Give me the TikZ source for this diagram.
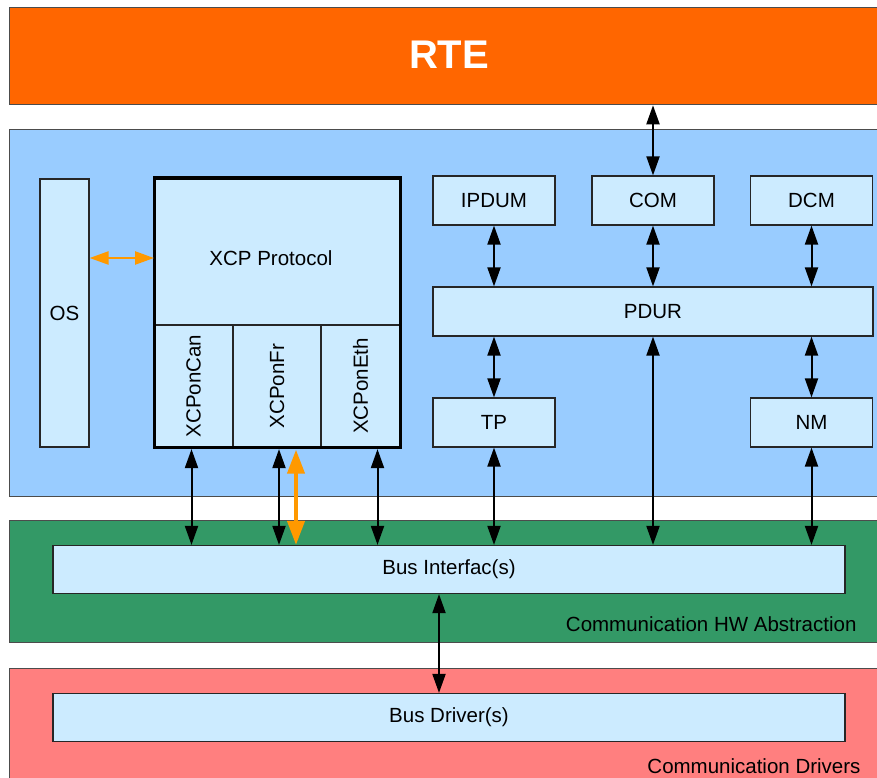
\documentclass[tikz,border=0pt]{standalone}
\usepackage{fontspec}
\setmainfont{Liberation Sans}
\usetikzlibrary{arrows.meta}

\definecolor{rteorange}{HTML}{FF6600}
\definecolor{swblue}{HTML}{99CCFF}
\definecolor{boxblue}{HTML}{CCEBFF}
\definecolor{hwgreen}{HTML}{339966}
\definecolor{drvred}{HTML}{FF7F7F}
\definecolor{xcporange}{HTML}{FF9900}

\tikzset{
    module/.style={draw=black!85, fill=boxblue, line width=1.2pt, inner sep=0pt},
    layer/.style={draw=black!70, line width=1.3pt, inner sep=0pt, anchor=north west},
    link/.style={arrows={Triangle[length=19pt,width=13pt]-Triangle[length=19pt,width=13pt]}, line width=2pt},
    xlink/.style={arrows={Triangle[length=24pt,width=17pt]-Triangle[length=24pt,width=17pt]}, draw=xcporange, fill=xcporange, line width=4pt},
    oslink/.style={arrows={Triangle[length=19pt,width=13pt]-Triangle[length=19pt,width=13pt]}, draw=xcporange, fill=xcporange, line width=2.4pt},
}

\begin{document}
\begin{tikzpicture}[x=1pt, y=-1pt, font=\fontsize{20.5}{24}\selectfont]
    \clip (0,0) rectangle (877,778);
    \fill[white] (0,0) rectangle (877,778);

    % layers
    \node[layer, fill=rteorange, minimum width=890pt, minimum height=97pt] (rte) at (9,7) {};
    \node[layer, fill=swblue, minimum width=890pt, minimum height=367pt] (swl) at (9,129) {};
    \node[layer, fill=hwgreen, minimum width=890pt, minimum height=122pt] (hwl) at (9,520) {};
    \node[layer, fill=drvred, minimum width=890pt, minimum height=140pt] (drl) at (9,668) {};

    % layer texts
    \node[white, font=\bfseries\fontsize{40}{44}\selectfont] (rtetext) at (449,55) {RTE};
    \node[anchor=east] (hwtext) at (860,624) {Communication HW Abstraction};
    \node[anchor=east] (drtext) at (864,766) {Communication Drivers};

    % OS
    \node[module, minimum width=49pt, minimum height=268pt] (os) at (64.5,313) {OS};

    % XCP
    \node[draw, fill=boxblue, line width=3pt, outer sep=0pt, minimum width=246pt, minimum height=269pt, anchor=north west] (xcp) at (154,178) {};
    \node (proto) at (271,258) {XCP Protocol};
    \node[module, minimum width=79pt, minimum height=122pt] (can) at (193.5,386) {\rotatebox{90}{XCPonCan}};
    \node[module, minimum width=88pt, minimum height=122pt] (fr) at (277,386) {\rotatebox{90}{XCPonFr}};
    \node[module, minimum width=79pt, minimum height=122pt] (eth) at (360.5,386) {\rotatebox{90}{XCPonEth}};
    \draw[line width=3pt] (xcp.north west) rectangle (xcp.south east);

    % services
    \node[module, minimum width=122pt, minimum height=49pt] (ipdum) at (494,200.5) {IPDUM};
    \node[module, minimum width=122pt, minimum height=49pt] (com) at (653,200.5) {COM};
    \node[module, minimum width=122pt, minimum height=49pt] (dcm) at (811.5,200.5) {DCM};
    \node[module, minimum width=440pt, minimum height=49pt] (pdur) at (653,311.5) {PDUR};
    \node[module, minimum width=122pt, minimum height=49pt] (tp) at (494,422.5) {TP};
    \node[module, minimum width=122pt, minimum height=49pt] (nm) at (811.5,422.5) {NM};

    % bus
    \node[module, minimum width=792pt, minimum height=48pt] (bus) at (449,569.5) {Bus Interfac(s)};
    \node[module, minimum width=792pt, minimum height=48pt] (drv) at (449,717.5) {Bus Driver(s)};

    % arrows
    \draw[link] (com.north |- rte.south) -- (com.north);
    \draw[link] (ipdum.south) -- (ipdum.south |- pdur.north);
    \draw[link] (com.south) -- (com.south |- pdur.north);
    \draw[link] (dcm.south) -- (dcm.south |- pdur.north);
    \draw[link] (tp.north |- pdur.south) -- (tp.north);
    \draw[link] (nm.north |- pdur.south) -- (nm.north);
    \draw[link] (pdur.south) -- (pdur.south |- bus.north);
    \draw[link] (tp.south) -- (tp.south |- bus.north);
    \draw[link] (nm.south) -- (nm.south |- bus.north);
    \draw[link] ([xshift=-2pt,yshift=-1.5pt]can.south) -- ([xshift=-2pt]can.south |- bus.north);
    \draw[link] ([xshift=2pt,yshift=-1.5pt]fr.south) -- ([xshift=2pt]fr.south |- bus.north);
    \draw[link] ([xshift=17pt,yshift=-1.5pt]eth.south) -- ([xshift=17pt]eth.south |- bus.north);
    \draw[link] ([xshift=-10pt]bus.south) -- ([xshift=-10pt]drv.north);

    % xcp links
    \draw[xlink] ([xshift=19pt,yshift=-2pt]fr.south) -- ([xshift=19pt]fr.south |- bus.north);
    \draw[oslink] (os.east |- proto) -- (xcp.west |- proto);
\end{tikzpicture}
\end{document}
